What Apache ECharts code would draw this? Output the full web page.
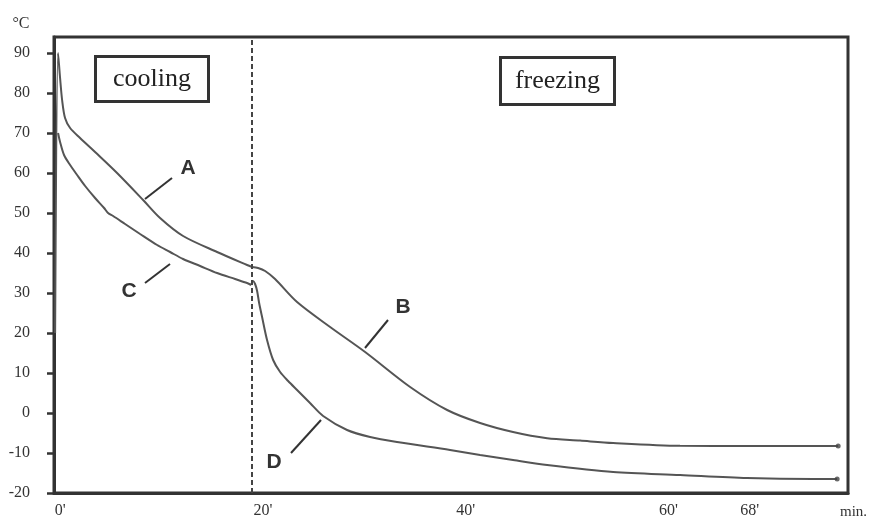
<!DOCTYPE html>
<html>
<head>
<meta charset="utf-8">
<script src="https://cdn.jsdelivr.net/npm/echarts@6/dist/echarts.min.js"></script>
<style>
  html, body { margin: 0; padding: 0; background: #fff; }
  #chart { width: 869px; height: 521px; }
</style>
</head>
<body>
<div id="chart"></div>
<script>
// ---- data (time in minutes, temperature in °C) ----
const xTickValues = [0, 20, 40, 60, 68];
const xTickLabels = ["0'", "20'", "40'", "60'", "68'"];
const yTickValues = [-20, -10, 0, 10, 20, 30, 40, 50, 60, 70, 80, 90];
const phaseBoundary = 18.9;      // end of cooling, start of freezing (min)
const phaseNames = ['cooling', 'freezing'];

// Curve A: upper curve, cooling phase
const curveA = [
  [-0.49, 20], [-0.2, 90], [0, 83.75], [0.2, 78.25], [0.49, 73.75], [0.99, 71.25],
  [1.97, 68.75], [3.45, 65.25], [5.62, 60], [8.19, 53.25], [9.86, 48.75],
  [12.13, 44.25], [15.48, 40.25], [18.44, 37], [18.93, 36.5]
];
// Curve B: upper curve, freezing phase
const curveB = [
  [18.93, 36.5], [19.53, 36.25], [20.22, 35.5], [21.2, 33.5], [23.37, 27.75],
  [26.63, 21.5], [30.08, 15.25], [34.52, 6.5], [38.17, 0.75], [41.42, -2.5],
  [44.67, -4.75], [48.03, -6.3], [51.28, -6.9], [54.54, -7.5], [61.14, -8.2],
  [67.75, -8.25], [76.73, -8.25]
];
// Curve C: lower curve, cooling phase
const curveC = [
  [-0.2, 70], [0, 67.75], [0.39, 64.5], [0.99, 62], [1.68, 59.5], [2.47, 56.75],
  [3.45, 53.75], [4.34, 51.25], [4.73, 50], [5.23, 49.25], [6.41, 47.25],
  [7.89, 44.75], [9.57, 42], [10.85, 40.25], [12.13, 38.5], [13.81, 36.75],
  [15.48, 35], [17.26, 33.5], [18.44, 32.5], [18.84, 32]
];
// Curve D: lower curve, freezing phase
const curveD = [
  [18.84, 32], [19.03, 33], [19.23, 32.25], [19.43, 30.5], [19.63, 27.5],
  [19.92, 24], [20.41, 18.25], [21.01, 13.25], [21.7, 10.25], [22.49, 8],
  [23.37, 5.75], [24.65, 2.5], [25.94, -0.75], [28.3, -4.25], [30.57, -6],
  [33.23, -7.25], [38.46, -9.25], [41.42, -10.5], [44.67, -11.75], [48.03, -13],
  [54.54, -14.75], [61.14, -15.5], [67.75, -16.25], [74.26, -16.5], [76.63, -16.5]
];

// ---- chart ----
const chart = echarts.init(document.getElementById('chart'), null, { renderer: 'canvas' });
const serif = '"Liberation Serif", "DejaVu Serif", serif';
const sans = '"Liberation Sans", Arial, sans-serif';
const ink = '#333333';
const lineColor = '#555555';

function lineSeries(name, data, extra) {
  return Object.assign({
    name: name,
    type: 'line',
    data: data,
    showSymbol: false,
    smooth: 0.3,
    lineStyle: { color: lineColor, width: 2 },
    silent: true,
    z: 3
  }, extra || {});
}

function boxLabel(text, left, top, w, h) {
  return {
    type: 'group', left: left, top: top,
    children: [
      { type: 'rect', shape: { x: 0, y: 0, width: w, height: h },
        style: { fill: '#fff', stroke: ink, lineWidth: 3 } },
      { type: 'text', x: w / 2, y: h / 2,
        style: { text: text, font: '26px ' + serif, fill: '#222',
                 align: 'center', verticalAlign: 'middle' } }
    ]
  };
}
function letter(text, x, y) {
  return { type: 'text', x: x, y: y,
    style: { text: text, font: 'bold 21px ' + sans, fill: '#333',
             align: 'center', verticalAlign: 'middle' } };
}
function leader(x1, y1, x2, y2) {
  return { type: 'line', shape: { x1: x1, y1: y1, x2: x2, y2: y2 },
    style: { stroke: '#333', lineWidth: 2 } };
}

const option = {
  animation: false,
  backgroundColor: '#ffffff',
  grid: { left: 54, right: 21, top: 37, bottom: 28, show: true,
          borderColor: ink, borderWidth: 3, backgroundColor: 'transparent' },
  xAxis: {
    type: 'value', min: -0.6, max: 77.7,
    axisLine: { show: true, onZero: false, lineStyle: { color: ink, width: 3 } },
    axisTick: { show: false },
    splitLine: { show: false },
    axisLabel: {
      customValues: xTickValues,
      formatter: function (v) {
        const i = xTickValues.indexOf(v);
        return i >= 0 ? xTickLabels[i] : '';
      },
      margin: 10, fontFamily: serif, fontSize: 16, color: '#333'
    }
  },
  yAxis: {
    type: 'value', min: -20, max: 94,
    axisLine: { show: true, onZero: false, lineStyle: { color: ink, width: 3 } },
    axisTick: { show: true, customValues: yTickValues, inside: false, length: 7,
                lineStyle: { color: ink, width: 2.5 } },
    splitLine: { show: false },
    axisLabel: {
      customValues: yTickValues,
      margin: 24, fontFamily: serif, fontSize: 16, color: '#333'
    }
  },
  series: [
    lineSeries('A', curveA, {
      markLine: {
        silent: true, symbol: ['none', 'none'], label: { show: false },
        lineStyle: { color: '#444', width: 2, type: [5, 3] },
        data: [{ xAxis: phaseBoundary }]
      }
    }),
    lineSeries('B', curveB),
    lineSeries('C', curveC),
    lineSeries('D', curveD),
    {
      type: 'scatter', silent: true, symbol: 'circle', symbolSize: 5,
      itemStyle: { color: '#444' }, z: 4,
      data: [curveB[curveB.length - 1], curveD[curveD.length - 1]]
    }
  ],
  graphic: [
    { type: 'text', x: 21, y: 24,
      style: { text: '°C', font: '16px ' + serif, fill: '#333',
               align: 'center', verticalAlign: 'middle' } },
    { type: 'text', x: 840, y: 512,
      style: { text: 'min.', font: '15px ' + serif, fill: '#333',
               align: 'left', verticalAlign: 'middle' } },
    boxLabel(phaseNames[0], 94, 55, 113, 45),
    boxLabel(phaseNames[1], 499, 56, 114, 47),
    letter('A', 188, 168), leader(145, 199, 172, 178),
    letter('B', 403, 307), leader(365, 348, 388, 320),
    letter('C', 129, 291), leader(145, 283, 170, 264),
    letter('D', 274, 462), leader(291, 453, 321, 420)
  ]
};
chart.setOption(option);
</script>
</body>
</html>
